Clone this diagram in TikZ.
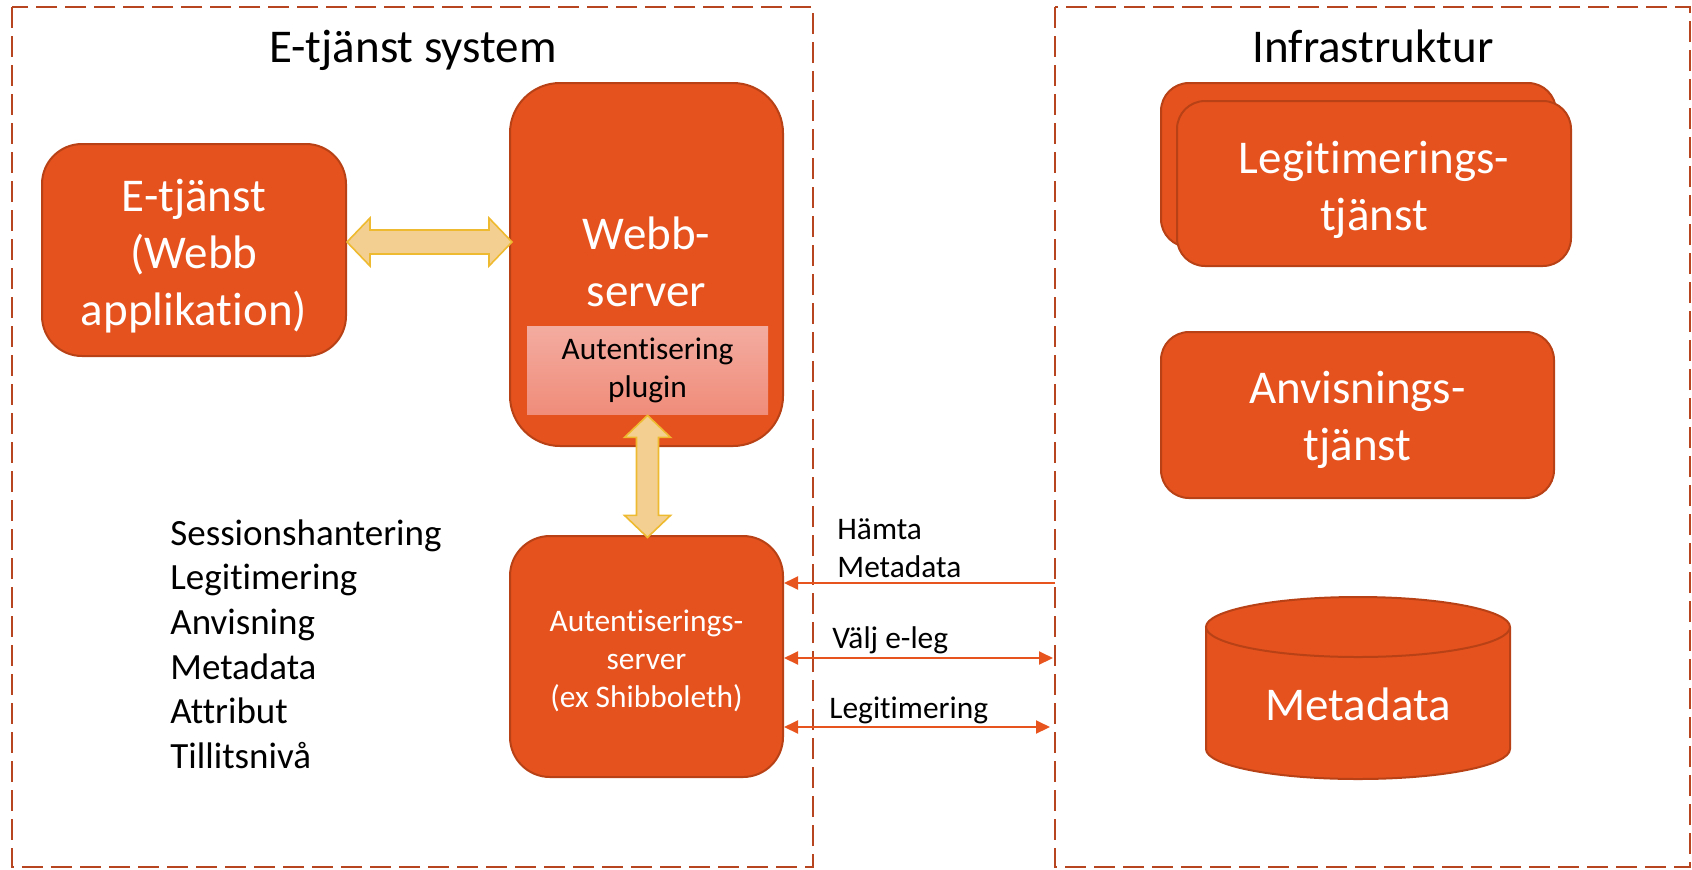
\documentclass[tikz,border=0pt]{standalone}
\usepackage{fontspec}
\setmainfont{Carlito}[Ligatures={NoCommon}]
\usetikzlibrary{arrows.meta,calc}
\definecolor{boxfill}{RGB}{229,82,30}
\definecolor{boxline}{RGB}{184,66,22}
\definecolor{dashc}{RGB}{183,70,32}
\definecolor{arrc}{RGB}{232,84,30}
\definecolor{dblfill}{RGB}{243,208,145}
\definecolor{dblline}{RGB}{238,186,48}
\definecolor{plugtop}{RGB}{243,172,160}
\definecolor{plugbot}{RGB}{240,140,122}
\begin{document}
\begin{tikzpicture}[x=0.5pt,y=-0.5pt,
  frame/.style={draw=dashc,line width=1.3pt,dash pattern=on 10.5pt off 4pt},
  bigtxt/.style={font=\fontsize{23.5}{28.5}\selectfont},
  smalltxt/.style={font=\fontsize{15.7}{19}\selectfont},
  obox/.style={draw=boxline,fill=boxfill,line width=1pt,inner sep=0pt,text=white,align=center,bigtxt},
  dbl/.style={draw=dblline,fill=dblfill,line width=0.8pt,line join=miter},
  conn/.style={draw=arrc,line width=1pt,-{Triangle[length=7pt,width=6.5pt]}},
  conntwo/.style={draw=arrc,line width=1pt,{Triangle[length=7pt,width=6.5pt]}-{Triangle[length=7pt,width=6.5pt]}},
  lbl/.style={smalltxt,inner sep=0pt,text=black}
]
\useasboundingbox (0,0) rectangle (1692,869);

% frames
\draw[frame] (12,7) rectangle (813,867);
\draw[frame] (1055,7) rectangle (1690,867);

% titles
\node[bigtxt,anchor=base,inner sep=0pt] (t1) at (413,62) {E-tjänst system};
\node[bigtxt,anchor=base,inner sep=0pt] (t2) at (1373,62) {Infrastruktur};

% left side boxes
\node[obox,rounded corners=20pt,minimum width=152pt,minimum height=106pt] (etj) at (194,250) {};
\node[bigtxt,text=white,align=center,inner sep=0pt] (etjtxt) at (194,256) {E-tjänst\\(Webb\\applikation)};
\node[obox,rounded corners=25pt,minimum width=136.5pt,minimum height=181.5pt] (webb) at (646.5,264.5) {};
\node[bigtxt,text=white,align=center,inner sep=0pt] (webbtxt) at (646.5,262) {Webb-\\server};
\node[top color=plugtop,bottom color=plugbot,inner sep=0pt,minimum width=120.5pt,minimum height=44pt,align=center,smalltxt] (plugin) at (647.5,370) {Autentisering\\plugin};
\node[obox,smalltxt,rounded corners=20pt,minimum width=136.5pt,minimum height=120.5pt] (auth) at (646.5,656.5) {};
\node[smalltxt,text=white,align=center,inner sep=0pt] (authtxt) at (646.5,661) {Autentiserings-\\server\\(ex Shibboleth)};

% double arrows
\coordinate (hA) at ([yshift=4pt]etj.east);
\draw[dbl] (hA) -- ++(23,-24) -- ++(0,12) -- ++(119,0) -- ++(0,-12) -- ++(23,24)
  -- ++(-23,24) -- ++(0,-12) -- ++(-119,0) -- ++(0,12) -- cycle;
\coordinate (vA) at ([yshift=-0.5pt]plugin.south);
\draw[dbl] (vA) -- ++(23,22) -- ++(-12,0) -- ++(0,78) -- ++(12,0) -- ++(-23,22)
  -- ++(-23,-22) -- ++(12,0) -- ++(0,-78) -- ++(-12,0) -- cycle;

% list
\node[anchor=west,align=left,inner sep=0pt,font=\fontsize{18.5}{22.3}\selectfont] (list) at (170,644)
 {Sessionshantering\\Legitimering\\Anvisning\\Metadata\\Attribut\\Tillitsnivå};

% right side
\node[obox,rounded corners=14pt,minimum width=197.5pt,minimum height=82pt] (legback) at (1358.5,165) {};
\node[obox,rounded corners=14pt,minimum width=197pt,minimum height=82.5pt] (legfront) at (1374,183.5) {};
\node[bigtxt,text=white,align=center,inner sep=0pt] (legtxt) at (1374,190) {Legitimerings-\\tjänst};
\node[obox,rounded corners=14pt,minimum width=196.5pt,minimum height=83pt] (anv) at (1357.5,415) {};
\node[bigtxt,text=white,align=center,inner sep=0pt] (anvtxt) at (1357.5,420) {Anvisnings-\\tjänst};

% cylinder
\fill[boxfill] (1206,627) -- (1206,749) arc[start angle=180,end angle=360,x radius=76pt,y radius=15pt]
  -- (1510,627) arc[start angle=0,end angle=180,x radius=76pt,y radius=15pt] -- cycle;
\draw[boxline,line width=1pt] (1206,627) -- (1206,749) arc[start angle=180,end angle=360,x radius=76pt,y radius=15pt]
  -- (1510,627) arc[start angle=0,end angle=360,x radius=76pt,y radius=15pt];
\node[bigtxt,text=white,anchor=base,inner sep=0pt] (meta) at (1358,720) {Metadata};

% connectors
\coordinate (hmR) at (1055,583);
\coordinate (vjR) at (1053,658);
\coordinate (lgR) at (1050,727);
\draw[conn] (hmR) -- (hmR -| auth.east);
\draw[conntwo] (vjR -| auth.east) -- (vjR);
\draw[conntwo] (lgR -| auth.east) -- (lgR);
\node[lbl,anchor=west,align=left] (hmlbl) at (837,548) {Hämta\\Metadata};
\node[lbl,anchor=base west] (vjlbl) at (832,648) {Välj e-leg};
\node[lbl,anchor=base west] (lglbl) at (829,718) {Legitimering};
\end{tikzpicture}
\end{document}
